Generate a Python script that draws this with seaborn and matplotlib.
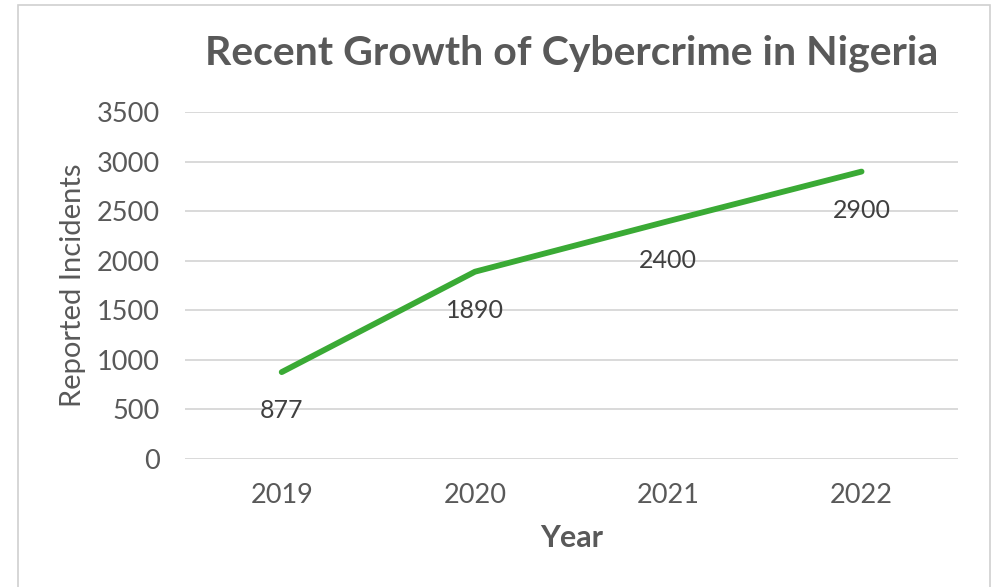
import matplotlib
matplotlib.use("Agg")
import matplotlib.pyplot as plt
import matplotlib.patches as patches
import pandas as pd
import seaborn as sns

# data
years = ["2019", "2020", "2021", "2022"]
incidents = [877, 1890, 2400, 2900]
yticks = [0, 500, 1000, 1500, 2000, 2500, 3000, 3500]

df = pd.DataFrame({"Year": years, "Incidents": incidents})

sns.set_theme(style="white")
plt.rcParams["font.family"] = ["Lato", "DejaVu Sans"]

grey = "#595959"
green = "#3aaa35"

fig = plt.figure(figsize=(9.95, 5.87), dpi=100)
ax = fig.add_axes([0.186, 0.218, 0.777, 0.591])

sns.lineplot(data=df, x="Year", y="Incidents", color=green, linewidth=4.2,
             solid_capstyle="round", ax=ax, zorder=3)

# data labels below points
for i, v in enumerate(incidents):
    ax.annotate(str(v), (i, v), xytext=(0, -28), textcoords="offset points",
                ha="center", va="center", fontsize=18, color="#404040")

ax.set_xlim(-0.5, 3.5)
ax.set_ylim(0, 3500)
ax.set_yticks(yticks)
ax.grid(axis="y", color="#d9d9d9", linewidth=1.4)
ax.grid(axis="x", visible=False)
for s in ax.spines.values():
    s.set_visible(False)
ax.tick_params(axis="both", length=0, labelsize=19.5, labelcolor=grey)
ax.tick_params(axis="x", pad=17)
ax.tick_params(axis="y", pad=18)

ax.set_xlabel("Year", fontsize=22, fontweight="bold", color=grey, labelpad=12)
ax.set_ylabel("Reported Incidents", fontsize=21, color=grey, labelpad=8)

fig.text(0.574, 0.909, "Recent Growth of Cybercrime in Nigeria", ha="center",
         va="center", fontsize=29.5, fontweight="bold", color=grey)

# outer border
fig.patches.append(patches.Rectangle((18 / 995, -0.01), 972 / 995, 1 - 5 / 587 + 0.01,
                                     transform=fig.transFigure, fill=False,
                                     edgecolor="#d0d0d0", linewidth=1.2))

fig.savefig("out.png", dpi=100)
